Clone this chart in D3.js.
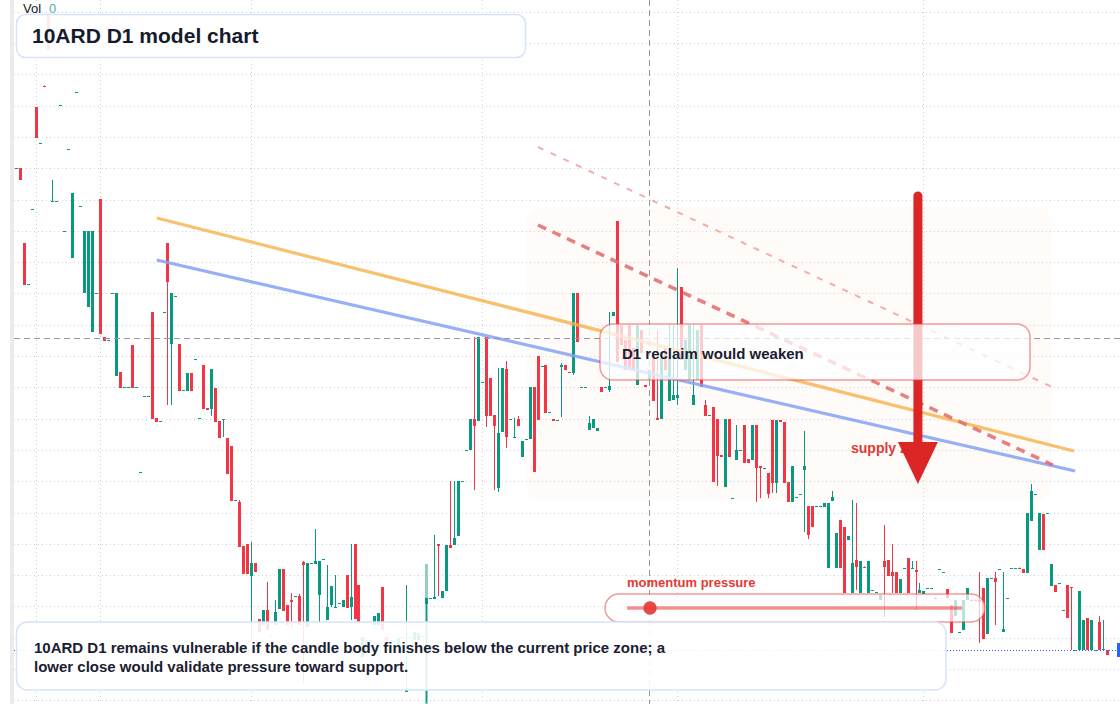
<!DOCTYPE html>
<html>
<head>
<meta charset="utf-8">
<title>10ARD D1 model chart</title>
<script src="https://d3js.org/d3.v7.min.js"></script>
<style>
  body { margin: 0; background: #fff; }
  svg { display: block; font-family: "Liberation Sans", Arial, sans-serif; }
</style>
</head>
<body>
<div id="chart"></div>
<script>
// daily candles, oldest first
const opens = [
  83.2, 83.2, 75.7, 71.6, 79.1, 89.3, 85.7, 91.45, 98.6, 79.9,
  79.9, 89.5, 76.9, 85.1, 74.2, 90.8, 79.4, 70.7, 69.3, 66.8,
  70.7, 80.1, 66.3, 66.0, 70.7, 62.4, 62.8, 61.3, 61.3, 65.5,
  61.3, 52.8, 60.4, 60.4, 68.8, 58.2, 57.9, 68.8, 75.7, 65.6,
  70.4, 65.6, 61.0, 60.9, 62.7, 64.1, 58.2, 63.5, 59.2, 59.1,
  61.2, 57.9, 58.0, 56.2, 55.4, 50.0, 49.8, 45.4, 45.6, 42.4,
  43.7, 38.1, 37.5, 39.0, 36.5, 37.5, 39.1, 43.1, 39.5, 40.0,
  40.4, 40.4, 43.8, 37.3, 43.7, 43.6, 40.5, 44.1, 38.0, 39.5,
  39.3, 39.7, 39.3, 42.5, 39.3, 45.6, 41.5, 34.3, 35.0, 36.0,
  37.5, 37.5, 41.3, 36.3, 36.0, 35.9, 35.5, 36.3, 30.8, 36.3,
  36.0, 36.0, 36.4, 39.6, 40.2, 40.1, 45.6, 40.2, 40.9, 45.5,
  45.5, 46.4, 51.9, 55.0, 55.0, 58.1, 57.9, 61.8, 66.3, 62.2,
  58.5, 51.2, 56.8, 63.1, 58.1, 56.2, 58.1, 54.3, 56.1, 56.1,
  61.3, 64.4, 63.4, 63.5, 58.8, 58.1, 58.0, 63.3, 63.5, 62.8,
  62.7, 70.7, 61.3, 61.3, 57.0, 57.2, 56.9, 61.3, 61.3, 61.0,
  68.4, 77.9, 67.5, 66.0, 67.5, 65.2, 61.5, 67.0, 61.5, 62.0,
  64.2, 58.2, 58.1, 65.2, 59.9, 60.0, 60.2, 71.3, 63.0, 62.0,
  59.5, 62.0, 67.5, 59.5, 58.5, 59.3, 58.1, 54.5, 51.3, 58.1,
  50.2, 54.0, 55.0, 57.5, 54.1, 54.0, 57.5, 53.4, 53.2, 52.7,
  58.0, 51.7, 58.0, 57.8, 51.8, 49.8, 50.3, 50.6, 53.0, 49.4,
  49.4, 49.4, 49.4, 49.3, 43.2, 49.9, 43.2, 48.0, 47.3, 46.0,
  40.7, 44.0, 40.7, 43.35, 40.7, 41.0, 40.8, 40.0, 43.9, 44.0,
  42.8, 42.8, 40.7, 43.2, 44.2, 43.2, 43.0, 40.7, 40.6, 41.2,
  41.2, 40.25, 43.1, 42.8, 41.1, 39.5, 38.4, 36.8, 37.0, 40.0,
  40.05, 40.05, 40.0, 41.2, 36.6, 42.2, 42.2, 43.1, 36.8, 40.2,
  43.2, 43.2, 43.25, 43.1, 42.7, 47.9, 50.6, 45.0, 48.6, 48.7,
  41.4, 41.5, 41.7, 39.0, 41.5, 41.3, 35.0, 35.0, 35.0, 38.2,
  35.0, 35.0, 37.8, 35.0, 35.0
];
const highs = [
  83.2, 83.2, 75.7, 71.6, 79.1, 89.3, 85.7, 91.45, 98.6, 82.0,
  79.9, 89.5, 76.9, 85.1, 80.7, 90.8, 79.4, 76.9, 76.9, 76.9,
  70.7, 80.1, 66.3, 66.0, 70.7, 70.7, 62.8, 61.3, 61.3, 65.5,
  61.3, 52.8, 60.4, 60.4, 68.8, 58.2, 57.9, 68.8, 75.7, 70.7,
  70.4, 65.6, 61.0, 62.7, 62.7, 64.1, 58.2, 63.5, 59.2, 63.1,
  61.2, 57.9, 58.1, 56.2, 55.4, 50.0, 50.0, 45.4, 45.6, 45.8,
  43.7, 38.1, 39.0, 41.8, 36.5, 40.0, 43.1, 43.1, 39.5, 40.7,
  40.4, 40.6, 43.9, 43.7, 43.7, 47.1, 43.9, 44.1, 43.5, 41.4,
  42.5, 39.7, 40.0, 42.5, 45.6, 45.6, 41.5, 36.3, 36.0, 36.0,
  38.4, 38.7, 41.3, 36.3, 36.0, 35.9, 36.2, 36.3, 41.5, 36.3,
  36.8, 36.7, 36.4, 40.2, 40.2, 46.5, 45.6, 40.9, 45.5, 51.9,
  51.9, 51.9, 51.9, 55.0, 58.1, 66.3, 66.3, 61.8, 66.3, 62.2,
  58.5, 63.2, 63.2, 63.9, 58.1, 58.2, 58.4, 55.9, 56.1, 61.3,
  61.3, 64.4, 63.4, 63.5, 58.8, 58.1, 58.0, 63.7, 63.5, 62.8,
  70.7, 70.7, 61.3, 61.3, 58.4, 58.1, 57.2, 61.3, 61.3, 68.8,
  68.8, 77.9, 67.5, 66.0, 67.5, 65.2, 67.5, 67.0, 61.5, 63.0,
  64.2, 67.0, 64.2, 65.2, 67.5, 67.5, 73.2, 71.3, 66.0, 67.5,
  67.5, 67.0, 67.5, 60.0, 58.5, 59.3, 58.1, 54.5, 58.1, 58.1,
  50.2, 57.5, 55.0, 57.5, 54.1, 57.5, 57.5, 53.4, 53.2, 52.7,
  58.0, 58.0, 58.0, 57.8, 51.8, 53.4, 50.3, 50.6, 56.9, 49.4,
  49.4, 49.4, 49.4, 49.7, 49.7, 50.9, 46.7, 48.0, 47.3, 46.4,
  50.0, 49.7, 43.9, 43.35, 43.9, 41.0, 40.8, 40.5, 47.5, 44.0,
  45.6, 42.8, 42.1, 43.2, 44.2, 43.9, 43.9, 41.7, 40.9, 41.2,
  41.2, 40.25, 43.1, 42.8, 41.1, 39.5, 40.0, 36.8, 40.0, 41.2,
  40.05, 40.05, 42.8, 41.2, 42.2, 42.2, 42.8, 43.1, 42.8, 40.2,
  43.2, 43.2, 43.25, 43.1, 48.7, 51.6, 50.6, 48.7, 48.6, 48.7,
  43.6, 41.5, 41.7, 39.0, 41.5, 41.3, 35.0, 40.9, 38.0, 38.2,
  38.0, 35.0, 38.4, 38.0, 35.0
];
const lows = [
  83.2, 82.0, 71.5, 71.6, 79.1, 86.2, 85.7, 91.4, 95.0, 79.9,
  79.9, 89.5, 76.9, 85.1, 74.2, 90.8, 79.4, 70.7, 69.3, 66.8,
  70.7, 66.6, 65.9, 66.0, 70.7, 62.4, 61.2, 61.3, 61.3, 61.2,
  61.3, 52.8, 60.4, 60.4, 58.1, 57.8, 57.9, 68.8, 59.5, 59.5,
  70.4, 60.9, 61.0, 60.9, 60.9, 64.1, 58.2, 59.1, 59.0, 58.4,
  57.8, 56.2, 56.3, 52.6, 49.9, 50.0, 45.3, 42.6, 42.6, 36.0,
  42.8, 36.8, 37.5, 37.0, 36.5, 37.5, 39.1, 38.9, 37.5, 37.2,
  40.4, 37.5, 31.7, 37.3, 43.7, 43.6, 37.8, 44.1, 38.0, 39.3,
  39.3, 39.7, 39.3, 39.2, 38.0, 38.1, 37.7, 34.3, 35.0, 36.0,
  37.5, 37.5, 37.0, 35.9, 36.0, 35.9, 35.5, 36.3, 30.8, 36.3,
  36.0, 36.0, 36.4, 29.7, 40.2, 40.1, 40.4, 40.2, 40.9, 45.2,
  45.5, 46.4, 51.9, 55.0, 55.0, 51.0, 57.9, 61.8, 57.3, 58.4,
  51.0, 50.8, 56.8, 55.2, 58.1, 56.2, 57.4, 54.3, 56.1, 56.1,
  52.8, 58.0, 63.4, 58.7, 58.8, 57.9, 58.0, 58.3, 63.0, 62.7,
  62.5, 65.8, 61.3, 61.3, 57.0, 57.2, 56.9, 60.8, 61.3, 60.8,
  68.4, 63.8, 65.5, 63.0, 63.0, 63.0, 61.5, 64.7, 61.3, 62.0,
  59.9, 58.0, 58.1, 63.0, 59.9, 60.0, 59.5, 64.0, 63.0, 62.0,
  59.5, 62.0, 61.3, 58.4, 58.5, 51.8, 51.4, 54.3, 51.3, 54.3,
  50.2, 54.0, 55.0, 53.7, 53.7, 54.0, 49.8, 50.2, 53.2, 50.2,
  50.7, 50.7, 57.8, 51.7, 49.8, 49.8, 50.3, 50.6, 46.8, 46.1,
  47.3, 49.4, 49.4, 49.3, 43.2, 49.9, 43.2, 43.2, 40.7, 46.0,
  40.7, 41.0, 40.7, 43.3, 40.7, 41.0, 40.8, 40.0, 38.3, 42.4,
  40.7, 40.7, 40.7, 43.2, 40.7, 43.2, 39.0, 40.7, 40.6, 41.2,
  41.2, 40.2, 43.1, 42.8, 40.2, 36.7, 38.4, 36.8, 37.0, 40.0,
  40.0, 40.0, 35.7, 36.1, 36.6, 42.2, 37.5, 43.1, 36.8, 40.2,
  43.2, 43.2, 43.2, 42.7, 42.7, 47.9, 50.6, 45.0, 45.0, 48.7,
  41.4, 40.8, 41.7, 39.0, 38.2, 35.0, 35.0, 35.0, 35.0, 35.0,
  35.0, 35.0, 35.0, 35.0, 34.5
];
const closes = [
  83.2, 82.0, 71.5, 71.6, 79.1, 86.2, 85.7, 91.4, 95.0, 79.9,
  79.9, 89.5, 76.9, 85.1, 80.7, 90.8, 79.4, 76.9, 76.9, 76.9,
  70.7, 66.6, 65.9, 66.0, 70.7, 70.7, 61.2, 61.3, 61.3, 61.2,
  61.3, 52.8, 60.4, 60.4, 58.1, 57.8, 57.9, 68.8, 71.8, 70.7,
  70.4, 60.9, 61.0, 62.7, 60.9, 64.1, 58.2, 59.1, 59.0, 63.1,
  57.8, 56.2, 58.1, 52.6, 49.9, 50.0, 45.3, 42.6, 42.6, 43.7,
  42.8, 36.8, 39.0, 37.0, 36.5, 38.8, 43.1, 38.9, 37.5, 39.8,
  40.4, 37.5, 43.5, 43.7, 43.7, 43.9, 43.9, 44.1, 39.3, 41.4,
  39.3, 39.7, 40.0, 39.2, 40.3, 38.1, 37.7, 36.3, 36.0, 36.0,
  38.4, 38.7, 37.0, 35.9, 36.0, 35.9, 36.2, 36.3, 31.1, 36.3,
  36.8, 36.7, 36.4, 40.2, 40.2, 40.3, 45.4, 40.9, 45.5, 45.2,
  46.2, 51.9, 51.9, 55.0, 58.1, 57.4, 66.3, 61.8, 58.4, 58.4,
  57.4, 56.7, 63.2, 56.3, 58.1, 56.3, 57.4, 55.9, 56.1, 61.3,
  52.8, 58.0, 63.4, 58.7, 58.8, 57.9, 58.0, 63.5, 63.0, 62.7,
  70.7, 65.8, 61.3, 61.3, 57.7, 58.1, 57.2, 60.8, 61.3, 61.4,
  68.8, 63.8, 65.5, 63.0, 63.0, 63.0, 67.5, 64.7, 61.3, 63.0,
  59.9, 58.0, 64.2, 63.0, 64.2, 60.5, 60.5, 64.0, 66.0, 67.5,
  60.5, 67.0, 61.3, 58.4, 58.5, 51.8, 54.4, 54.3, 58.1, 54.3,
  50.2, 55.0, 55.0, 53.7, 53.7, 57.5, 53.2, 53.2, 53.2, 50.6,
  51.7, 58.0, 57.8, 51.7, 49.8, 53.4, 50.3, 50.6, 53.4, 46.5,
  47.3, 49.4, 49.4, 49.7, 49.7, 50.3, 46.7, 43.2, 40.7, 46.4,
  43.7, 43.3, 43.9, 43.3, 43.9, 41.0, 40.8, 40.5, 43.3, 42.4,
  42.4, 40.7, 42.1, 43.2, 40.7, 43.2, 42.8, 41.0, 40.9, 41.2,
  41.2, 40.2, 43.1, 42.8, 40.2, 36.7, 40.0, 36.8, 40.0, 41.2,
  40.0, 40.0, 39.8, 36.1, 42.2, 42.2, 41.8, 43.1, 37.1, 40.2,
  43.2, 43.2, 43.2, 42.7, 48.7, 50.9, 50.6, 48.7, 45.0, 48.7,
  43.6, 40.8, 41.7, 39.0, 38.2, 41.2, 35.0, 40.9, 38.0, 35.0,
  38.0, 35.0, 35.0, 35.1, 34.5
];
// volume is almost always zero; one print stands out
const volumes = [[103, 18400]];
const lastPrice = 35.0;

// price grid and month separators (candle index)
const priceTicks = [98.83, 95.70, 92.57, 89.44, 86.31, 83.18, 80.05, 76.92, 73.79, 70.66,
  67.53, 64.40, 61.27, 58.14, 55.01, 51.88, 48.75, 45.62, 42.49, 39.36, 36.23, 33.10, 29.97];
const monthStarts = [5, 21, 59, 117, 166, 228];
const crosshair = { i: 159, p: 66.2 };

// drawn tools, in candle index / price
const trendLines = [
  { i0: 35.3, p0: 78.2, i1: 265.8, p1: 54.9, color: '#f7b24a', w: 3.2, op: 0.8, dash: null },
  { i0: 35.3, p0: 74.0, i1: 266.1, p1: 52.9, color: '#86a2f4', w: 3.2, op: 0.85, dash: null },
  { i0: 131.1, p0: 77.5, i1: 260.5, p1: 53.5, color: '#e46a6a', w: 3.5, op: 0.85, dash: '9,7' },
  { i0: 131.1, p0: 85.3, i1: 260.3, p1: 61.3, color: '#f19a9a', w: 2, op: 0.8, dash: '6,8' }
];
const zone = { i0: 128.3, i1: 260.2, pTop: 79.3, pBot: 50.0 };
const arrow = { i: 226.6, pTop: 80.4, pHead: 55.8, pTip: 51.6 };

const width = 1120, height = 704;
const up = '#089981', down = '#f23645';

const x = d3.scaleLinear().domain([0, opens.length - 1]).range([16.3, 1106.5]);
const y = d3.scaleLinear().domain([100, 29.6]).range([0, height]);

const svg = d3.select('#chart').append('svg').attr('width', width).attr('height', height);
svg.append('rect').attr('width', width).attr('height', height).attr('fill', '#fff');
svg.append('rect').attr('x', 10).attr('y', 0).attr('width', 4).attr('height', height).attr('fill', '#ebebeb');

// highlighted zone
svg.append('rect')
  .attr('x', x(zone.i0)).attr('y', y(zone.pTop))
  .attr('width', x(zone.i1) - x(zone.i0)).attr('height', y(zone.pBot) - y(zone.pTop))
  .attr('rx', 14).attr('fill', '#f6e2d8').attr('opacity', 0.14);

// grid
const grid = svg.append('g').attr('stroke', '#d2d2d2').attr('stroke-dasharray', '1,3');
grid.selectAll('line.h').data(priceTicks).join('line').attr('class', 'h')
  .attr('x1', 14).attr('x2', width)
  .attr('y1', d => Math.round(y(d)) + 0.5).attr('y2', d => Math.round(y(d)) + 0.5);
grid.selectAll('line.v').data(monthStarts).join('line').attr('class', 'v')
  .attr('x1', d => Math.round(x(d)) + 0.5).attr('x2', d => Math.round(x(d)) + 0.5)
  .attr('y1', 0).attr('y2', height);

// volume
const vy = d3.scaleLinear().domain([0, d3.max(volumes, d => d[1])]).range([height, height - 140]);
svg.append('g').selectAll('rect').data(volumes).join('rect')
  .attr('x', d => Math.round(x(d[0])) - 1).attr('width', 3)
  .attr('y', d => vy(d[1])).attr('height', d => height - vy(d[1]))
  .attr('fill', up).attr('opacity', 0.45);

// candles
const candles = d3.range(opens.length).map(i => ({ i, o: opens[i], h: highs[i], l: lows[i], c: closes[i] }));
const cg = svg.append('g');
cg.selectAll('line').data(candles).join('line')
  .attr('x1', d => Math.round(x(d.i)) + 0.5).attr('x2', d => Math.round(x(d.i)) + 0.5)
  .attr('y1', d => y(d.h)).attr('y2', d => y(d.l))
  .attr('stroke', d => d.c >= d.o ? up : down).attr('stroke-width', 1);
cg.selectAll('rect').data(candles).join('rect')
  .attr('x', d => Math.round(x(d.i)) - 1).attr('width', 3)
  .attr('y', d => Math.round(y(Math.max(d.o, d.c))))
  .attr('height', d => Math.max(1, Math.round(y(Math.min(d.o, d.c))) - Math.round(y(Math.max(d.o, d.c)))))
  .attr('fill', d => d.c >= d.o ? up : down);

// trend lines
svg.append('g').selectAll('line').data(trendLines).join('line')
  .attr('x1', d => x(d.i0)).attr('y1', d => y(d.p0))
  .attr('x2', d => x(d.i1)).attr('y2', d => y(d.p1))
  .attr('stroke', d => d.color).attr('stroke-width', d => d.w)
  .attr('opacity', d => d.op).attr('stroke-dasharray', d => d.dash);

// crosshair
const ch = svg.append('g').attr('stroke', '#9598a1').attr('stroke-dasharray', '6,4');
ch.append('line').attr('x1', Math.round(x(crosshair.i)) + 0.5).attr('x2', Math.round(x(crosshair.i)) + 0.5)
  .attr('y1', 0).attr('y2', height);
ch.append('line').attr('x1', 14).attr('x2', width)
  .attr('y1', Math.round(y(crosshair.p)) + 0.5).attr('y2', Math.round(y(crosshair.p)) + 0.5);

// last price line
svg.append('line').attr('x1', 14).attr('x2', width)
  .attr('y1', Math.round(y(lastPrice)) + 0.5).attr('y2', Math.round(y(lastPrice)) + 0.5)
  .attr('stroke', '#2962ff').attr('stroke-dasharray', '1,2');
svg.append('rect').attr('x', 1117).attr('y', y(lastPrice) - 7).attr('width', 3).attr('height', 14).attr('fill', '#2962ff');

// supply label + arrow
svg.append('text').attr('x', 851).attr('y', 453).text('supply zone')
  .attr('font-size', 14).attr('font-weight', 700).attr('fill', '#e53935');
const ax = x(arrow.i);
svg.append('line').attr('x1', ax).attr('x2', ax).attr('y1', y(arrow.pTop)).attr('y2', y(arrow.pHead) + 4)
  .attr('stroke', '#dc2626').attr('stroke-width', 9).attr('stroke-linecap', 'round');
svg.append('path')
  .attr('d', `M${ax - 20},${y(arrow.pHead)} L${ax + 20},${y(arrow.pHead)} L${ax},${y(arrow.pTip)} Z`)
  .attr('fill', '#dc2626');

// reclaim callout
svg.append('rect').attr('x', 600).attr('y', 324).attr('width', 430).attr('height', 56).attr('rx', 13)
  .attr('fill', '#fff').attr('fill-opacity', 0.75)
  .attr('stroke', '#e53935').attr('stroke-opacity', 0.5).attr('stroke-width', 1.5);
svg.append('text').attr('x', 622).attr('y', 359).text('D1 reclaim would weaken')
  .attr('font-size', 15).attr('font-weight', 700).attr('fill', '#1a2030');

// momentum pill
svg.append('text').attr('x', 627).attr('y', 587).text('momentum pressure')
  .attr('font-size', 13).attr('font-weight', 700).attr('fill', '#e53935');
svg.append('rect').attr('x', 605).attr('y', 594).attr('width', 380).attr('height', 28).attr('rx', 14)
  .attr('fill', '#fff').attr('fill-opacity', 0.72)
  .attr('stroke', '#e53935').attr('stroke-opacity', 0.5).attr('stroke-width', 1.5);
svg.append('line').attr('x1', 627).attr('x2', 962).attr('y1', 608).attr('y2', 608)
  .attr('stroke', '#e53935').attr('stroke-opacity', 0.55).attr('stroke-width', 3.5);
svg.append('circle').attr('cx', 650).attr('cy', 608).attr('r', 6.7).attr('fill', '#e53935').attr('opacity', 0.92);

// bottom note
svg.append('rect').attr('x', 16.5).attr('y', 622).attr('width', 929.5).attr('height', 68).attr('rx', 11)
  .attr('fill', '#fff').attr('fill-opacity', 0.88)
  .attr('stroke', '#d6e3fa').attr('stroke-width', 1.5);
const note = svg.append('text').attr('font-size', 15).attr('font-weight', 700).attr('fill', '#1a2030');
note.append('tspan').attr('x', 34).attr('y', 653)
  .text('10ARD D1 remains vulnerable if the candle body finishes below the current price zone; a');
note.append('tspan').attr('x', 34).attr('y', 672)
  .text('lower close would validate pressure toward support.');

// title
svg.append('rect').attr('x', 16.5).attr('y', 14.5).attr('width', 509).attr('height', 43).attr('rx', 9)
  .attr('fill', '#fff').attr('fill-opacity', 0.9)
  .attr('stroke', '#d6e3fa').attr('stroke-width', 1.5);
svg.append('text').attr('x', 32).attr('y', 43).text('10ARD D1 model chart')
  .attr('font-size', 21).attr('font-weight', 700).attr('fill', '#141b2d');

// volume legend
const vol = svg.append('text').attr('x', 23).attr('y', 13).attr('font-size', 13);
vol.append('tspan').attr('fill', '#131722').text('Vol');
vol.append('tspan').attr('x', 49).attr('fill', '#4db6ac').text('0');
</script>
</body>
</html>
